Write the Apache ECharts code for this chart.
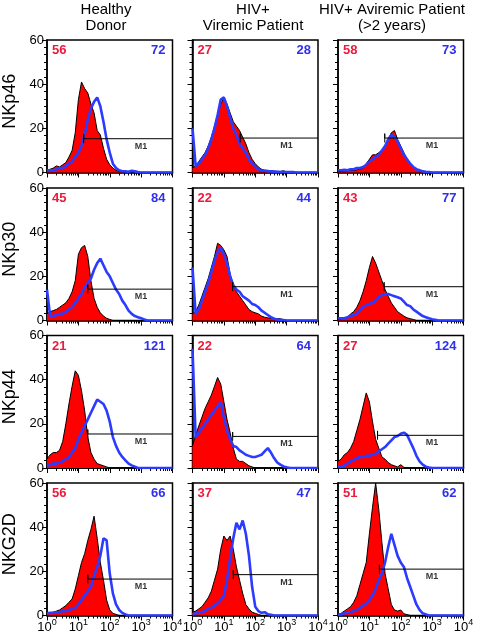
<!DOCTYPE html>
<html><head><meta charset="utf-8">
<script src="https://cdn.jsdelivr.net/npm/echarts@6/dist/echarts.min.js"></script>
<style>html,body{margin:0;padding:0;background:#fff}#c{width:479px;height:635px}</style>
</head><body><div id="c"></div>
<script>
// ---------- labels ----------
const columnTitles = ['Healthy\nDonor', 'HIV+\nViremic Patient', 'HIV+ Aviremic Patient\n(>2 years)'];
const rowLabels = ['NKp46', 'NKp30', 'NKp44', 'NKG2D'];
const xTickExponents = [0, 1, 2, 3, 4];
const yTickValues = [0, 20, 40, 60];
// bin centres on the log10 fluorescence scale
const logBins = [0,0.1,0.2,0.3,0.4,0.5,0.6,0.7,0.8,0.9,1,1.1,1.2,1.3,1.4,1.5,1.6,1.7,1.8,1.9,2,2.1,2.2,2.3,2.4,2.5,2.6,2.7,2.8,2.9,3,3.1,3.2,3.3,3.4,3.5,3.6,3.7,3.8,3.9,4];

// ---------- histogram counts (red = filled control, blue = receptor) ----------
const nkp46HealthyRed  = [1,1.5,2,3,2.5,3.5,4.5,7,10,18, 33,41,38,36,31,27,19,17,11,6, 3.5,2,1,0.5,0.3,0,0,0,0,0, 0,0,0,0,0,0,0,0,0,0,0];
const nkp46HealthyBlue = [1,1,1,1.5,2,2,3,4,5,7, 9,12,17,24,29,32,34,30,23,15, 9,4,2,1,0.6,0.5,0.3,0.8,0.5,0.2, 0,0,0,0,0,0,0,0,0,0,0];
const nkp46ViremicRed  = [2,3,5,7,9,12,16,21,26,31, 34,31,27,23,21,19,16,13,9,6, 4,2.5,1.5,1,1,0.8,0.6,0.5,0.5,0.8, 0.3,0,0,0,0,0,0,0,0,0,0];
const nkp46ViremicBlue = [20,3,4,6,8,11,15,20,26,33, 34,30,25,20,17,13,11,9,6,4, 2.5,1.5,1,0.8,0.6,0.5,0.4,0.3,0.2,0.2, 0.2,0.2,0.2,0,0,0,0,0,0,0,0];
const nkp46AviremicRed  = [0.5,0.5,0.6,0.8,1,1,1.2,1.5,2,4, 6,8,8,9,10,12,15,18,19,15, 12,9,6,4,2.5,1.5,0.8,0.4,0.2,0, 0,0,0,0,0,0,0,0,0,0,0];
const nkp46AviremicBlue = [1,1,1.2,1,1.5,1.5,2,2,2.5,3.5, 5,6,7,8,10,12,15,17,16,14, 11,8,6,4,2.5,1.5,1,0.5,0.3,0.2, 0,0,0,0,0,0,0,0,0,0,0];

const nkp30HealthyRed  = [3,4,4.5,5,6,7,8,10,13,18, 30,33,34,29,18,10,6,3.5,2,1, 0.5,0,0,0,0,0,0,0,0,0, 0,0,0,0,0,0,0,0,0,0,0];
const nkp30HealthyBlue = [14,2,2,2.5,3,3,4,5,6,8, 10,12,15,17,19,23,26,28,25,22, 20,17,14,12,9,7,4.5,3,2,1.5, 1,0.5,0,0,0,0,0,0,0,0,0];
const nkp30ViremicRed  = [3,4,7,11,15,19,24,29,35,34, 32,29,21,16,13,11,9,7,5,4, 3.5,3,2,1.5,1.2,1,1,0.8,0.8,0.4, 0,0,0,0,0,0,0,0,0,0,0];
const nkp30ViremicBlue = [24,3,5,9,13,17,22,27,31,33, 30,26,20,16,14,13,11,10,9,7.5, 7,6,4.5,3.5,2.5,1.5,0.8,0.4,0.2,0.2, 0,0,0,0,0,0,0,0,0,0,0];
const nkp30AviremicRed  = [0.5,0.8,1,1.5,3,4,6,9,13,18, 24,29,26,22,18,14,11,8,6,4, 3,2,1.2,0.8,0.5,0,0,0,0,0, 0,0,0,0,0,0,0,0,0,0,0];
const nkp30AviremicBlue = [1,1,1,1.5,2,2.5,3,4.5,6,7, 7.5,8,9,10.5,11.5,12,12,11.5,11,10.5, 10,8.5,7,6.5,5,4,3,2,1.5,1, 0.6,0.3,0,0,0,0,0,0,0,0,0];

const nkp44HealthyRed  = [4,6,7,7,8,12,20,29,37,44, 42,35,26,14,7,4,2,1.5,1,0.5, 0,0,0,0,0,0,0,0,0,0, 0,0,0,0,0,0,0,0,0,0,0];
const nkp44HealthyBlue = [1,1.5,2,2,2.5,3,4,5,7,9, 13,16,19,22,25,28,31,30,29,26, 21,14,10,7,5,3.5,2,1.2,0.6,0, 0,0,0,0,0,0,0,0,0,0,0];
const nkp44ViremicRed  = [10,15,19,23,27,30,33,37,41,38, 30,22,16,9,4,3,3,2,1,0.5, 0,0,0,0,0,0,0,0,0,0, 0,0,0,0,0,0,0,0,0,0,0];
const nkp44ViremicBlue = [54,14,16,18,20,22,24,26,28,30, 23,17,13,10,9.5,8,7,6,5.5,5, 5,5.5,6,7.5,9,7,4.5,2.5,1.5,0.7, 0.3,0,0,0,0,0,0,0,0,0,0];
const nkp44AviremicRed  = [3,4,6,7,9,12,17,22,28,34, 30,21,13,9,5,4,2.5,1.5,1,0.5, 1.5,0.3,0,0,0,0,0,0,0,0, 0,0,0,0,0,0,0,0,0,0,0];
const nkp44AviremicBlue = [0.5,0.8,1,2,3,3.5,4.5,5,5,5.5, 5.5,6,6.5,7.5,8.5,9.5,11,12.5,14,14.5, 15.5,16,15,12,9,5.5,3,1.5,0.6,0.2, 0,0,0,0,0,0,0,0,0,0,0];

const nkg2dHealthyRed  = [1,1.2,1.5,2,2.5,3.5,4.5,6,7.5,12, 18,24,28,34,39,45,35,24,16,7, 2.5,1,0.5,0,0,0,0,0,0,0, 0,0,0,0,0,0,0,0,0,0,0];
const nkg2dHealthyBlue = [1,1.2,1.2,1.5,1.5,2,2,2.5,3,3.5, 5,7,9,11,13,18,22,27,35,34, 19,10,5,2.5,1.2,0.5,0,0,0,0, 0,0,0,0,0,0,0,0,0,0,0];
const nkg2dViremicRed  = [1.5,2,3,4,6,8,11,16,21,30, 36,34,36,30,22,16,10,5,3,1.5, 1,0.5,0,0,0,0,0,0,0,0, 0,0,0,0,0,0,0,0,0,0,0];
const nkg2dViremicBlue = [0.5,1,1.2,1.5,2,3,3.5,4.5,5.5,7, 9,16,26,35,42,39,43,37,27,13, 4,2,1.2,1.5,0.6,0.3,0,0,0,0, 0,0,0,0,0,0,0,0,0,0,0];
const nkg2dAviremicRed  = [0.5,1,2,3,4,6,9,14,19,24, 37,49,60,48,33,19,12,5,2.5,2, 2.5,0.8,0.4,0,0,0,0,0,0,0, 0,0,0,0,0,0,0,0,0,0,0];
const nkg2dAviremicBlue = [0.3,0.5,1,1.2,1.5,2,2.5,3.5,4.5,5.5, 7,9,12,16,19,24,31,37,32,27, 24,22,17,13,9,5,2.5,1,0.5,0, 0,0,0,0,0,0,0,0,0,0,0];

// percentages printed in each panel
const redValues  = [[56, 27, 58], [45, 22, 43], [21, 22, 27], [56, 37, 51]];
const blueValues = [[72, 28, 73], [84, 44, 77], [121, 64, 124], [66, 47, 62]];
// M1 gate: start (log10) and level (counts)
const m1Start = [[1.17, 1.52, 1.49], [1.3, 1.28, 1.47], [1.3, 1.28, 1.26], [1.3, 1.3, 1.32]];
const m1Level = [[15.3, 15.6, 15.6], [14.2, 15.3, 15.3], [15.4, 14.3, 14.8], [16.5, 18.5, 21]];
const m1LabelPos = 3.0;

const redSeries = [
  [nkp46HealthyRed, nkp46ViremicRed, nkp46AviremicRed],
  [nkp30HealthyRed, nkp30ViremicRed, nkp30AviremicRed],
  [nkp44HealthyRed, nkp44ViremicRed, nkp44AviremicRed],
  [nkg2dHealthyRed, nkg2dViremicRed, nkg2dAviremicRed]
];
const blueSeries = [
  [nkp46HealthyBlue, nkp46ViremicBlue, nkp46AviremicBlue],
  [nkp30HealthyBlue, nkp30ViremicBlue, nkp30AviremicBlue],
  [nkp44HealthyBlue, nkp44ViremicBlue, nkp44AviremicBlue],
  [nkg2dHealthyBlue, nkg2dViremicBlue, nkg2dAviremicBlue]
];

// ---------- layout ----------
const FONT = '"Liberation Sans", Arial, Helvetica, sans-serif';
const colLeft = [47, 192.5, 338];
const panelW = 125.5;
const rowTop = [40, 188, 335.5, 483];
const panelH = 132.5;
const RED_FILL = '#ff0000';
const RED_TEXT = '#ec1a3c';
const BLUE = '#2b3bff';
const BLUE_TEXT = '#2f2ff0';

const minorLog = [];
for (let d = 0; d < 4; d++) for (let k = 2; k <= 9; k++) minorLog.push(Math.log10(k * Math.pow(10, d)));

const grids = [], xAxes = [], yAxes = [], series = [], graphics = [];
const zip = arr => logBins.map((x, i) => [x, arr[i]]);

for (let r = 0; r < 4; r++) {
  for (let c = 0; c < 3; c++) {
    const g = grids.length;
    grids.push({ left: colLeft[c], top: rowTop[r], width: panelW, height: panelH,
      show: true, borderColor: '#000', borderWidth: 1.5, backgroundColor: 'transparent',
      containLabel: false, outerBoundsMode: 'none' });
    xAxes.push({ gridIndex: g, type: 'value', min: 0, max: 4, interval: 1,
      axisLine: { show: true, onZero: false, lineStyle: { color: '#000', width: 1.5 } },
      axisTick: { show: true, length: 5, lineStyle: { color: '#000', width: 1 } },
      splitLine: { show: false },
      axisLabel: { show: r === 3, showMinLabel: true, showMaxLabel: true, margin: 3,
        formatter: v => '10{s|' + xTickExponents[Math.round(v)] + '}',
        color: '#000', fontSize: 13, fontFamily: FONT,
        rich: { s: { fontSize: 9, fontFamily: FONT, color: '#000', padding: [0, 0, 8, 0] } } } });
    xAxes.push({ gridIndex: g, type: 'value', min: 0, max: 4, position: 'bottom',
      axisLine: { show: false }, splitLine: { show: false }, axisLabel: { show: false },
      axisTick: { show: true, length: 3, customValues: minorLog, lineStyle: { color: '#000', width: 1 } } });
    yAxes.push({ gridIndex: g, type: 'value', min: 0, max: 60, interval: 20,
      axisLine: { show: true, lineStyle: { color: '#000', width: 1.5 } },
      axisTick: { show: true, length: 5, lineStyle: { color: '#000', width: 1 } },
      minorTick: { show: true, splitNumber: 6, length: 3, lineStyle: { color: '#000', width: 1 } },
      splitLine: { show: false }, minorSplitLine: { show: false },
      axisLabel: { show: c === 0, margin: 3, color: '#000', fontSize: 13, fontFamily: FONT } });

    const xi = 2 * g;
    series.push({ type: 'line', xAxisIndex: xi, yAxisIndex: g, data: zip(redSeries[r][c]),
      symbol: 'none', silent: true, z: 2,
      lineStyle: { color: '#000', width: 1 }, areaStyle: { color: RED_FILL, opacity: 1 } });
    series.push({ type: 'line', xAxisIndex: xi, yAxisIndex: g, data: zip(blueSeries[r][c]),
      symbol: 'none', silent: true, z: 3, lineStyle: { color: BLUE, width: 2.6 } });
    const s = m1Start[r][c], l = m1Level[r][c];
    series.push({ type: 'line', xAxisIndex: xi, yAxisIndex: g, symbol: 'none', silent: true, z: 4,
      data: [[s, l - 2], [s, l + 2], [s, l], [4, l]], lineStyle: { color: '#000', width: 1 } });
    series.push({ type: 'scatter', xAxisIndex: xi, yAxisIndex: g, symbolSize: 0, silent: true, z: 4,
      data: [[m1LabelPos, l]],
      label: { show: true, formatter: 'M1', position: 'bottom', distance: 3,
        fontSize: 9, fontWeight: 'bold', color: '#000', fontFamily: FONT } });

    graphics.push({ type: 'text', left: colLeft[c] + 5, top: rowTop[r] + 4, z: 10,
      style: { text: String(redValues[r][c]), fill: RED_TEXT, font: 'bold 13px ' + FONT } });
    graphics.push({ type: 'text', right: 479 - (colLeft[c] + panelW - 7), top: rowTop[r] + 4, z: 10,
      style: { text: String(blueValues[r][c]), fill: BLUE_TEXT, font: 'bold 13px ' + FONT } });
  }
}

const titleCenters = [106, 253, 392];
columnTitles.forEach((t, c) => {
  graphics.push({ type: 'text', x: titleCenters[c], y: 2, z: 10,
    style: { text: t, fill: '#000', font: '15px ' + FONT, textAlign: 'center', textVerticalAlign: 'top', lineHeight: 16 } });
});
rowLabels.forEach((t, r) => {
  graphics.push({ type: 'text', x: 10, y: rowTop[r] + panelH / 2 - 5, rotation: Math.PI / 2, z: 10,
    style: { text: t, fill: '#000', font: '18px ' + FONT, textAlign: 'center', textVerticalAlign: 'middle' } });
});

const chart = echarts.init(document.getElementById('c'), null, { renderer: 'canvas' });
chart.setOption({
  animation: false,
  backgroundColor: '#fff',
  grid: grids, xAxis: xAxes, yAxis: yAxes, series: series,
  graphic: { elements: graphics }
});
</script></body></html>
